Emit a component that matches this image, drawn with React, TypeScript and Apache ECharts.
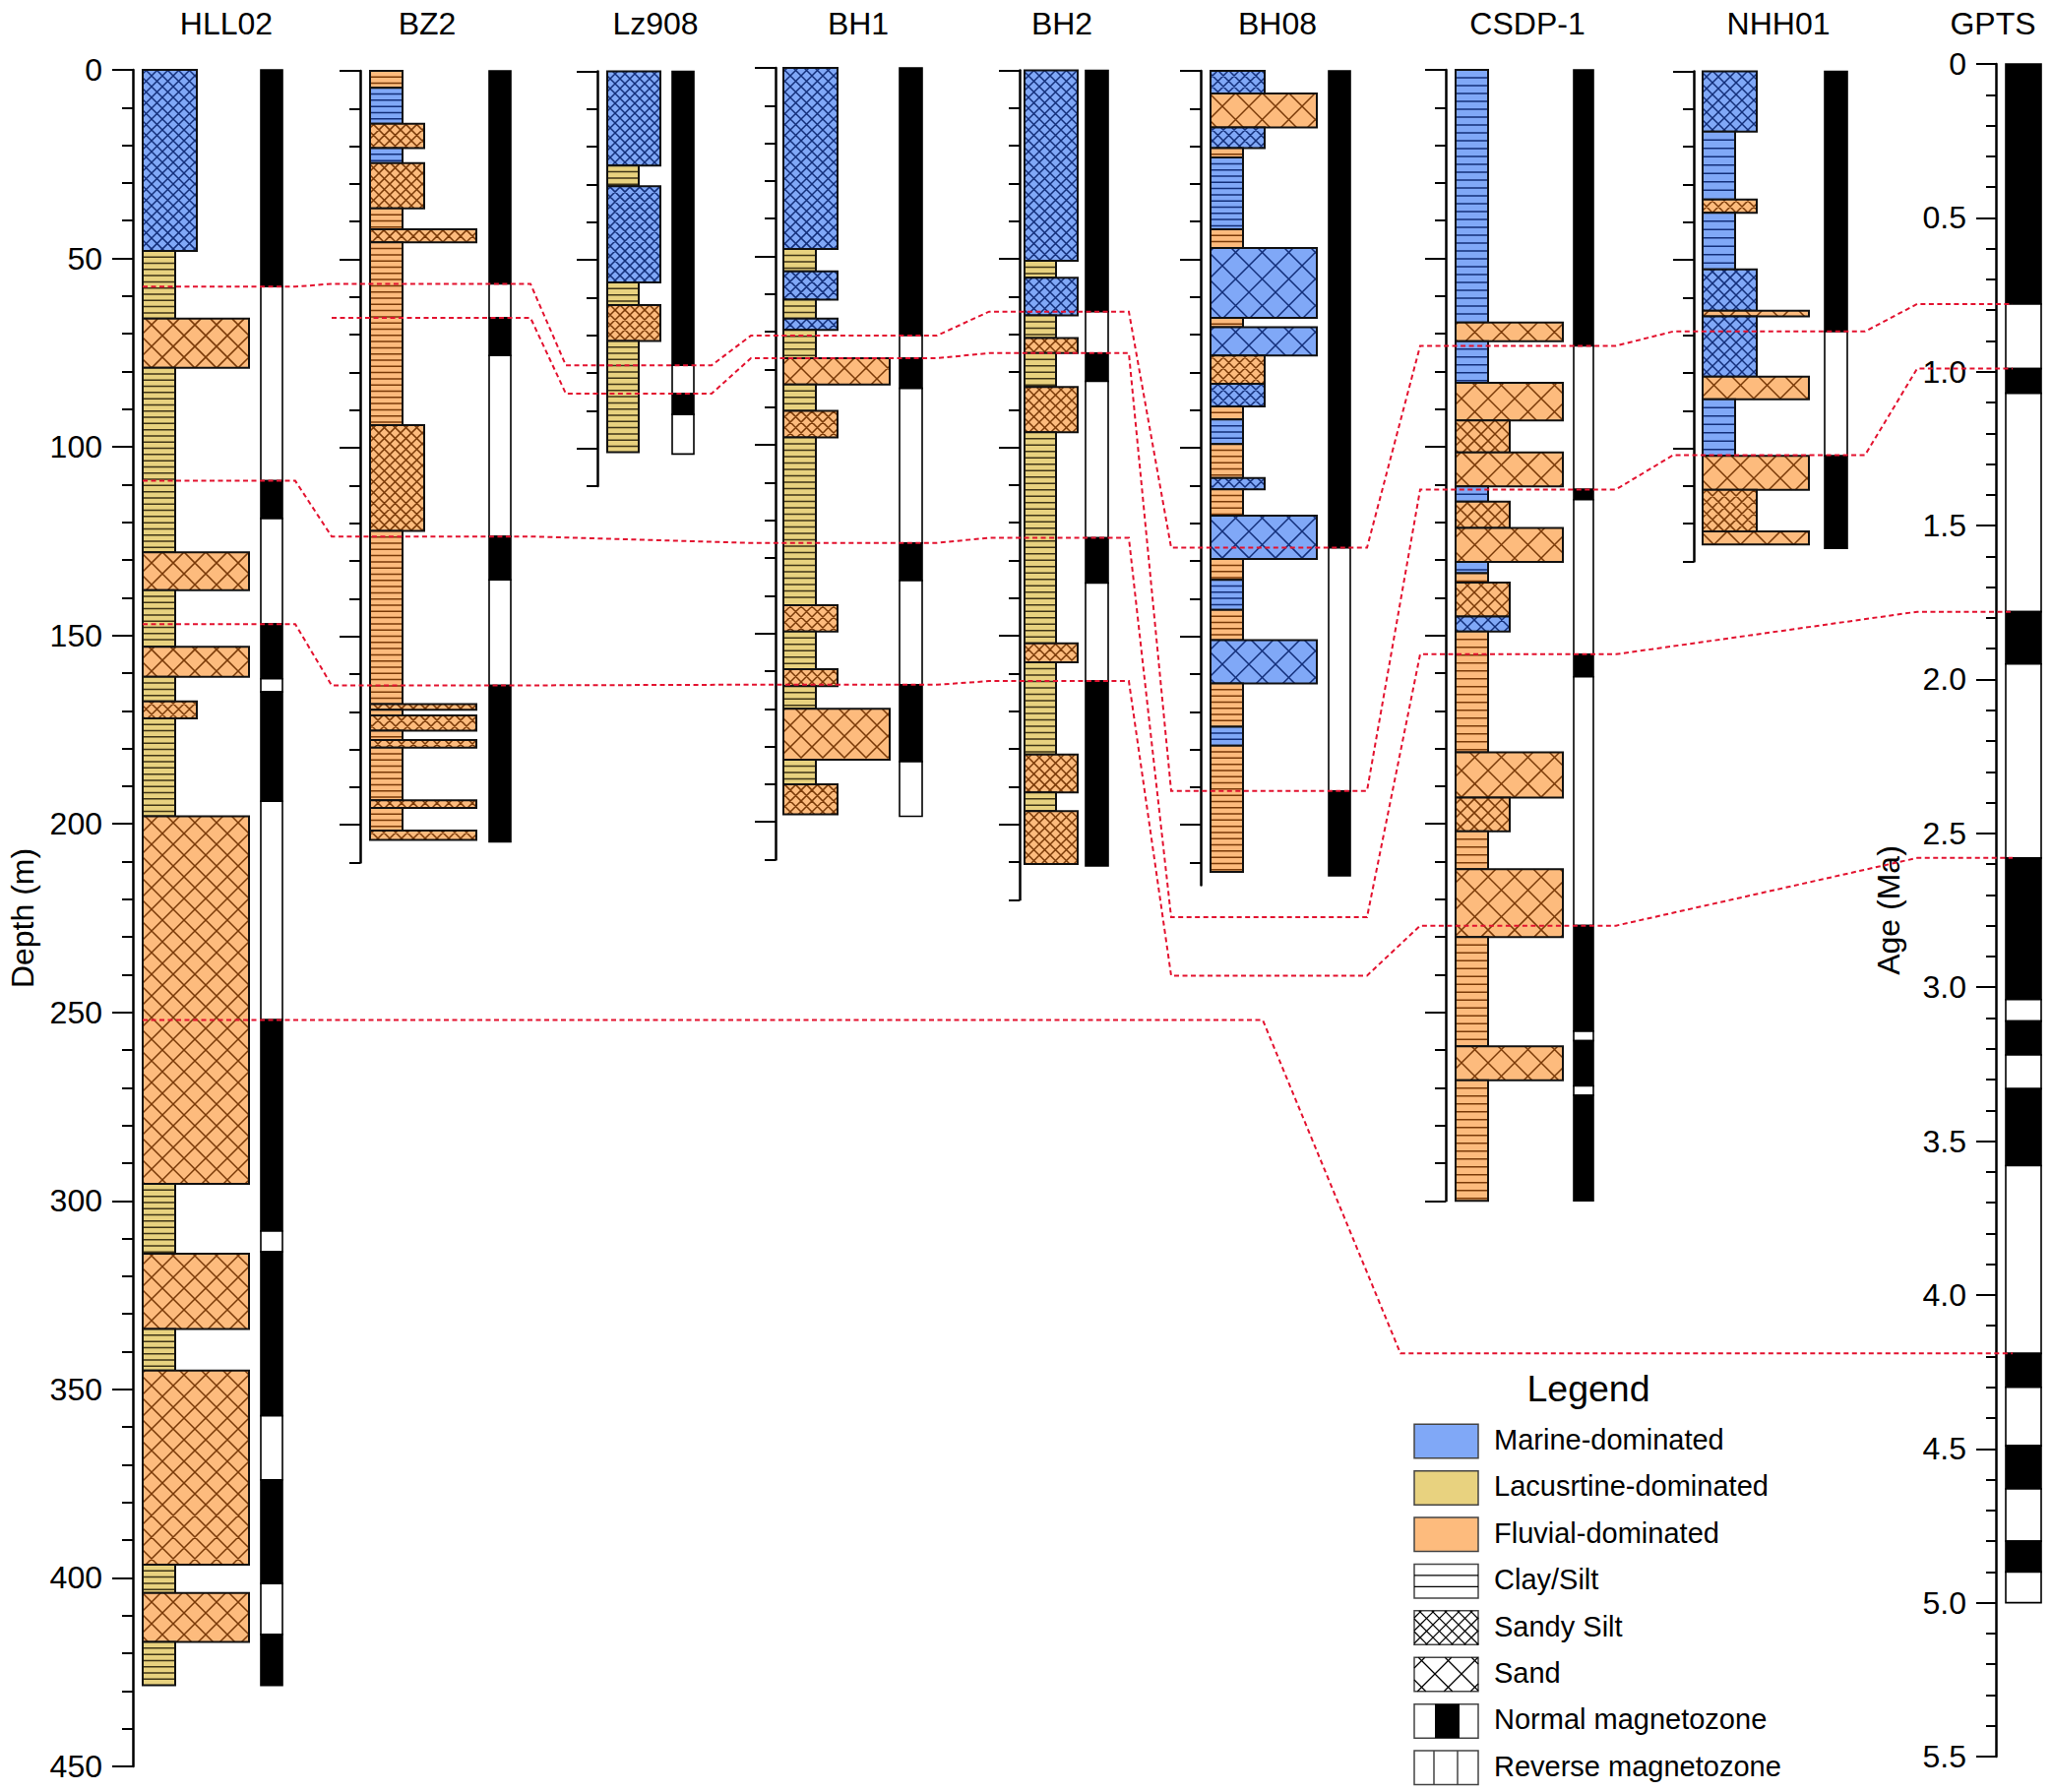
import React, { useEffect, useRef } from "react";
import * as echarts from "echarts";

const FONT = '"Liberation Sans", Arial, Helvetica, sans-serif';

// ---------------- DATA ----------------
// lithology: [topDepth, bottomDepth, facies (M marine, L lacustrine, F fluvial), texture (C clay/silt, S sandy silt, D sand)]
// polarity: [top, bottom, 1 = normal, 0 = reverse]
const BOREHOLE_NAMES = ["HLL02", "BZ2", "Lz908", "BH1", "BH2", "BH08", "CSDP-1", "NHH01"];
const AXIS_MAX = [450, 210, 110, 210, 220, 216, 300, 130];

const HLL02_LITH = [
  [0, 48, "M", "S"], [48, 66, "L", "C"], [66, 79, "F", "D"], [79, 128, "L", "C"], [128, 138, "F", "D"],
  [138, 153, "L", "C"], [153, 161, "F", "D"], [161, 167.5, "L", "C"], [167.5, 172, "F", "S"], [172, 198, "L", "C"],
  [198, 295.5, "F", "D"], [295.5, 314, "L", "C"], [314, 334, "F", "D"], [334, 345, "L", "C"], [345, 396.5, "F", "D"],
  [396.5, 404, "L", "C"], [404, 417, "F", "D"], [417, 428.5, "L", "C"],
];
const HLL02_MAG = [
  [0, 57.5, 1], [57.5, 109, 0], [109, 119, 1], [119, 147, 0], [147, 161.5, 1], [161.5, 165, 0], [165, 194, 1],
  [194, 252, 0], [252, 308, 1], [308, 313.5, 0], [313.5, 357, 1], [357, 374, 0], [374, 401.5, 1], [401.5, 415, 0],
  [415, 428.5, 1],
];

const BZ2_LITH = [
  [0, 4.5, "F", "C"], [4.5, 14, "M", "C"], [14, 20.5, "F", "S"], [20.5, 24.5, "M", "C"], [24.5, 36.5, "F", "S"],
  [36.5, 42, "F", "C"], [42, 45.5, "F", "D"], [45.5, 94, "F", "C"], [94, 122, "F", "S"], [122, 168, "F", "C"],
  [168, 169.5, "F", "D"], [169.5, 171, "F", "C"], [171, 175, "F", "D"], [175, 177.5, "F", "C"], [177.5, 179.5, "F", "D"],
  [179.5, 193.5, "F", "C"], [193.5, 195.5, "F", "D"], [195.5, 201.5, "F", "C"], [201.5, 204, "F", "D"],
];
const BZ2_MAG = [[0, 56.5, 1], [56.5, 65.5, 0], [65.5, 75.5, 1], [75.5, 123.5, 0], [123.5, 135, 1], [135, 163, 0], [163, 204.5, 1]];

const LZ908_LITH = [[0, 25, "M", "S"], [25, 30.5, "L", "C"], [30.5, 56, "M", "S"], [56, 62, "L", "C"], [62, 71.5, "F", "S"], [71.5, 101, "L", "C"]];
const LZ908_MAG = [[0, 78, 1], [78, 85.5, 0], [85.5, 91, 1], [91, 101.5, 0]];

const BH1_LITH = [
  [0, 48, "M", "S"], [48, 54, "L", "C"], [54, 61.5, "M", "S"], [61.5, 66.5, "L", "C"], [66.5, 69.5, "M", "S"],
  [69.5, 77, "L", "C"], [77, 84, "F", "D"], [84, 91, "L", "C"], [91, 98, "F", "S"], [98, 142.5, "L", "C"],
  [142.5, 149.5, "F", "S"], [149.5, 159.5, "L", "C"], [159.5, 164, "F", "S"], [164, 170, "L", "C"], [170, 183.5, "F", "D"],
  [183.5, 190, "L", "C"], [190, 198, "F", "S"],
];
const BH1_MAG = [[0, 71, 1], [71, 77, 0], [77, 85, 1], [85, 126, 0], [126, 136, 1], [136, 163.6, 0], [163.6, 184, 1], [184, 198.5, 0]];

const BH2_LITH = [
  [0, 50.5, "M", "S"], [50.5, 55, "L", "C"], [55, 65, "M", "S"], [65, 71, "L", "C"], [71, 75, "F", "S"],
  [75, 84, "L", "C"], [84, 96, "F", "S"], [96, 152, "L", "C"], [152, 157, "F", "S"], [157, 181.5, "L", "C"],
  [181.5, 191.5, "F", "S"], [191.5, 196.5, "L", "C"], [196.5, 210.5, "F", "S"],
];
const BH2_MAG = [[0, 64, 1], [64, 75, 0], [75, 82.5, 1], [82.5, 124, 0], [124, 136, 1], [136, 162, 0], [162, 211, 1]];

const BH08_LITH = [
  [0, 6, "M", "S"], [6, 15, "F", "D"], [15, 20.5, "M", "S"], [20.5, 23, "F", "C"], [23, 42, "M", "C"],
  [42, 47, "F", "C"], [47, 65.5, "M", "D"], [65.5, 68, "F", "C"], [68, 75.5, "M", "D"], [75.5, 83, "F", "S"],
  [83, 89, "M", "S"], [89, 92.5, "F", "C"], [92.5, 99, "M", "C"], [99, 108, "F", "C"], [108, 111, "M", "S"],
  [111, 118, "F", "C"], [118, 129.5, "M", "D"], [129.5, 135, "F", "C"], [135, 143, "M", "C"], [143, 151, "F", "C"],
  [151, 162.5, "M", "D"], [162.5, 174, "F", "C"], [174, 179, "M", "C"], [179, 212.5, "F", "C"],
];
const BH08_MAG = [[0, 126.5, 1], [126.5, 191, 0], [191, 213.5, 1]];

const CSDP1_LITH = [
  [0, 67, "M", "C"], [67, 72, "F", "D"], [72, 83, "M", "C"], [83, 93, "F", "D"], [93, 101.5, "F", "S"],
  [101.5, 110.5, "F", "D"], [110.5, 114.5, "M", "C"], [114.5, 121.5, "F", "S"], [121.5, 130.5, "F", "D"],
  [130.5, 133.5, "M", "C"], [133.5, 136, "F", "C"], [136, 145, "F", "S"], [145, 149, "M", "S"], [149, 181, "F", "C"],
  [181, 193, "F", "D"], [193, 202, "F", "S"], [202, 212, "F", "C"], [212, 230, "F", "D"], [230, 259, "F", "C"],
  [259, 268, "F", "D"], [268, 300, "F", "C"],
];
const CSDP1_MAG = [
  [0, 73.2, 1], [73.2, 111.3, 0], [111.3, 114, 1], [114, 155, 0], [155, 161, 1], [161, 227, 0], [227, 255, 1],
  [255, 257.5, 0], [257.5, 269.5, 1], [269.5, 272, 0], [272, 300, 1],
];

const NHH01_LITH = [
  [0, 16, "M", "S"], [16, 34, "M", "C"], [34, 37.5, "F", "S"], [37.5, 52.5, "M", "C"], [52.5, 63.5, "M", "S"],
  [63.5, 65, "F", "D"], [65, 81, "M", "S"], [81, 87, "F", "D"], [87, 102, "M", "C"], [102, 111, "F", "D"],
  [111, 122, "F", "S"], [122, 125.5, "F", "D"],
];
const NHH01_MAG = [[0, 69, 1], [69, 102, 0], [102, 126.5, 1]];

const LITH_BY_HOLE = [HLL02_LITH, BZ2_LITH, LZ908_LITH, BH1_LITH, BH2_LITH, BH08_LITH, CSDP1_LITH, NHH01_LITH];
const MAG_BY_HOLE = [HLL02_MAG, BZ2_MAG, LZ908_MAG, BH1_MAG, BH2_MAG, BH08_MAG, CSDP1_MAG, NHH01_MAG];

// GPTS polarity chrons [ageTop, ageBottom, polarity] (Ma)
const GPTS_POLARITY = [
  [0, 0.78, 1], [0.78, 0.99, 0], [0.99, 1.07, 1], [1.07, 1.78, 0], [1.78, 1.95, 1], [1.95, 2.58, 0],
  [2.58, 3.04, 1], [3.04, 3.11, 0], [3.11, 3.22, 1], [3.22, 3.33, 0], [3.33, 3.58, 1], [3.58, 4.19, 0],
  [4.19, 4.3, 1], [4.3, 4.49, 0], [4.49, 4.63, 1], [4.63, 4.8, 0], [4.8, 4.9, 1], [4.9, 5.0, 0],
];
const GPTS_MAX = 5.5;

const DEPTH_LABELS = [0, 50, 100, 150, 200, 250, 300, 350, 400, 450];
const AGE_LABELS = [0, 0.5, 1, 1.5, 2, 2.5, 3, 3.5, 4, 4.5, 5, 5.5];

// correlation lines: [column, depth (m) or age (Ma) for GPTS]
const TIE_LINES = [
  [["HLL02", 57.5], ["BZ2", 56.5], ["Lz908", 78], ["BH1", 71], ["BH2", 64], ["BH08", 126.5], ["CSDP-1", 73.2], ["NHH01", 69], ["GPTS", 0.78]],
  [["BZ2", 65.5], ["Lz908", 85.5], ["BH1", 77], ["BH2", 75], ["BH08", 191], ["CSDP-1", 111.3], ["NHH01", 101.8], ["GPTS", 0.99]],
  [["HLL02", 109], ["BZ2", 123.5], ["BH1", 126], ["BH2", 124], ["BH08", 224.5], ["CSDP-1", 155], ["GPTS", 1.78]],
  [["HLL02", 147], ["BZ2", 163], ["BH1", 163.6], ["BH2", 162], ["BH08", 240], ["CSDP-1", 227], ["GPTS", 2.58]],
  [["HLL02", 252], ["GPTS", 4.19]],
];

const LEGEND_LABELS = [
  "Marine-dominated", "Lacusrtine-dominated", "Fluvial-dominated", "Clay/Silt", "Sandy Silt", "Sand",
  "Normal magnetozone", "Reverse magnetozone",
];
const LEGEND_KINDS = ["M", "L", "F", "C", "S", "D", "N", "R"];

// ---------------- LAYOUT / STYLE ----------------
const PX_PER_M = 3.831;
const COLS: any = {
  HLL02: { axisX: 135, top: 71, lithL: 145, narrowR: 178, medR: 200, wideR: 253, magL: 265, magR: 287, sand: 22, silt: 11, clay: 6.3, span: [145, 300], titleX: 230 },
  BZ2: { axisX: 366, top: 72, lithL: 376, narrowR: 409, medR: 431, wideR: 484, magL: 497, magR: 519, sand: 12, silt: 11, clay: 6.3, span: [337, 539], titleX: 434 },
  Lz908: { axisX: 607, top: 72.5, lithL: 617, narrowR: 649, medR: 671, wideR: 700, magL: 683, magR: 705, sand: 14, silt: 10, clay: 6.3, span: [575, 723], titleX: 666 },
  BH1: { axisX: 788, top: 69, lithL: 796, narrowR: 829, medR: 851, wideR: 904, magL: 914, magR: 937, sand: 22, silt: 11, clay: 6.5, span: [763, 952], titleX: 872 },
  BH2: { axisX: 1036, top: 71.5, lithL: 1041, narrowR: 1073, medR: 1095, wideR: 1148, magL: 1103, magR: 1126, sand: 22, silt: 11, clay: 6.5, span: [1005, 1147], titleX: 1079 },
  BH08: { axisX: 1220, top: 72, lithL: 1230, narrowR: 1263, medR: 1285, wideR: 1338, magL: 1350, magR: 1372, sand: 27, silt: 11, clay: 6.3, span: [1190, 1389], titleX: 1298 },
  "CSDP-1": { axisX: 1469, top: 71, lithL: 1479, narrowR: 1512, medR: 1534, wideR: 1588, magL: 1599, magR: 1619, sand: 27, silt: 14, clay: 8, span: [1443, 1642], titleX: 1552 },
  NHH01: { axisX: 1721, top: 72.5, lithL: 1730, narrowR: 1763, medR: 1785, wideR: 1838, magL: 1854, magR: 1877, sand: 27, silt: 12, clay: 8.5, span: [1700, 1895], titleX: 1807 },
};
const GPTS_L = { axisX: 2028, top: 65, height: 1720, colL: 2038, colR: 2074, span: [1948, 2045], titleX: 2025 };
const TIE_SPAN_OVERRIDE: any = { 4: { HLL02: [145, 1283], GPTS: [1423, 2045] } };

const FILL: any = { M: "#80a8f7", L: "#e8d27f", F: "#fdbb7d" };
const HATCH: any = { M: "#132f7a", L: "#3f3517", F: "#7a3a08" };
const TIE_COLOR = "#e3122f";

function ticksUpTo(max: number, step: number) {
  const out: number[] = [];
  const n = Math.floor(max / step + 1e-9);
  for (let i = 0; i <= n; i++) out.push(Math.round(i * step * 1000) / 1000);
  return out;
}

function hatchSegments(x0: number, y0: number, x1: number, y1: number, tex: string, p: number, s: number) {
  const segs: number[][] = [];
  if (tex === "C") {
    for (let y = y0 + s; y < y1 - 1.5; y += s) segs.push([x0, y, x1, y]);
  } else {
    for (let c = Math.ceil((x0 - y1) / p) * p; c < x1 - y0; c += p) {
      const xs = Math.max(x0, y0 + c), xe = Math.min(x1, y1 + c);
      if (xe - xs > 0.3) segs.push([xs, xs - c, xe, xe - c]);
    }
    for (let c = Math.ceil((x0 + y0) / p) * p; c < x1 + y1; c += p) {
      const xs = Math.max(x0, c - y1), xe = Math.min(x1, c - y0);
      if (xe - xs > 0.3) segs.push([xs, c - xs, xe, c - xe]);
    }
  }
  return segs;
}

function segsToPath(segs: number[][]) {
  return segs.map((s) => `M${s[0].toFixed(2)} ${s[1].toFixed(2)}L${s[2].toFixed(2)} ${s[3].toFixed(2)}`).join("") || "M0 0";
}

function buildOption() {
  const grid: any[] = [], xAxis: any[] = [], yAxis: any[] = [], series: any[] = [], title: any[] = [];
  const titleStyle = { fontSize: 32, fontWeight: "normal", color: "#000", fontFamily: FONT };

  BOREHOLE_NAMES.forEach((name, i) => {
    const L = COLS[name];
    const max = AXIS_MAX[i];
    const w = L.magR - L.axisX + 10;
    const isMain = name === "HLL02";
    grid.push({ left: L.axisX, top: L.top, width: w, height: max * PX_PER_M });
    xAxis.push({ type: "value", gridIndex: i, min: 0, max: w, show: false });
    yAxis.push({
      type: "value", gridIndex: i, min: 0, max, inverse: true, position: "left",
      axisLine: { show: true, onZero: false, lineStyle: { color: "#000", width: 2.5 } },
      axisTick: { show: true, customValues: ticksUpTo(max, 10), length: 11, lineStyle: { color: "#000", width: 2 } },
      axisLabel: { show: false }, splitLine: { show: false },
    });
    yAxis.push({
      type: "value", gridIndex: i, min: 0, max, inverse: true, position: "left",
      axisLine: { show: false, onZero: false },
      axisTick: { show: true, customValues: ticksUpTo(max, 50), length: 21, lineStyle: { color: "#000", width: 2 } },
      axisLabel: isMain
        ? { show: true, customValues: DEPTH_LABELS, margin: 31, fontSize: 32, color: "#000", fontFamily: FONT }
        : { show: false },
      name: isMain ? "Depth (m)" : "",
      nameLocation: "middle", nameRotate: 90, nameGap: 96,
      nameTextStyle: { fontSize: 32, color: "#000", fontFamily: FONT },
      splitLine: { show: false },
    });
    title.push({ text: name, left: L.titleX, top: 8, textAlign: "center", padding: 0, textStyle: titleStyle });

    const lith = LITH_BY_HOLE[i];
    series.push({
      type: "custom", xAxisIndex: i, yAxisIndex: 2 * i, silent: true, clip: false,
      data: lith.map((r: any) => [0, r[0], r[1]]),
      encode: { x: 0, y: [1, 2] },
      renderItem: (params: any, api: any) => {
        const rec: any = lith[params.dataIndex];
        const right = rec[3] === "C" ? L.narrowR : rec[3] === "S" ? L.medR : L.wideR;
        const a = api.coord([L.lithL - L.axisX, api.value(1)]);
        const b = api.coord([right - L.axisX, api.value(2)]);
        const x = a[0], y = a[1], wd = b[0] - a[0], ht = b[1] - a[1];
        const per = rec[3] === "D" ? L.sand : L.silt;
        const segs = hatchSegments(x, y, x + wd, y + ht, rec[3], per, L.clay);
        return {
          type: "group",
          children: [
            { type: "rect", shape: { x, y, width: wd, height: ht }, style: { fill: FILL[rec[2]], stroke: "none" } },
            { type: "path", shape: { pathData: segsToPath(segs) }, style: { fill: "none", stroke: HATCH[rec[2]], lineWidth: 1.5 } },
            { type: "rect", shape: { x, y, width: wd, height: ht }, style: { fill: "none", stroke: "#111", lineWidth: 2 } },
          ],
        };
      },
    });
    const mag = MAG_BY_HOLE[i];
    series.push({
      type: "custom", xAxisIndex: i, yAxisIndex: 2 * i, silent: true, clip: false,
      data: mag.map((r: any) => [0, r[0], r[1], r[2]]),
      encode: { x: 0, y: [1, 2] },
      renderItem: (params: any, api: any) => {
        const a = api.coord([L.magL - L.axisX, api.value(1)]);
        const b = api.coord([L.magR - L.axisX, api.value(2)]);
        return {
          type: "rect",
          shape: { x: a[0], y: a[1], width: b[0] - a[0], height: b[1] - a[1] },
          style: { fill: api.value(3) === 1 ? "#000" : "#fff", stroke: "#000", lineWidth: 1.6 },
        };
      },
    });
  });

  // GPTS
  const gi = BOREHOLE_NAMES.length;
  grid.push({ left: GPTS_L.axisX, top: GPTS_L.top, width: GPTS_L.colR - GPTS_L.axisX + 10, height: GPTS_L.height });
  xAxis.push({ type: "value", gridIndex: gi, min: 0, max: GPTS_L.colR - GPTS_L.axisX + 10, show: false });
  yAxis.push({
    type: "value", gridIndex: gi, min: 0, max: GPTS_MAX, inverse: true, position: "left",
    axisLine: { show: true, onZero: false, lineStyle: { color: "#000", width: 2.5 } },
    axisTick: { show: true, customValues: ticksUpTo(GPTS_MAX, 0.1), length: 10, lineStyle: { color: "#000", width: 2 } },
    axisLabel: { show: false }, splitLine: { show: false },
  });
  yAxis.push({
    type: "value", gridIndex: gi, min: 0, max: GPTS_MAX, inverse: true, position: "left",
    axisLine: { show: false, onZero: false },
    axisTick: { show: true, customValues: ticksUpTo(GPTS_MAX, 0.5), length: 20, lineStyle: { color: "#000", width: 2 } },
    axisLabel: {
      show: true, customValues: AGE_LABELS, margin: 30, fontSize: 32, color: "#000", fontFamily: FONT,
      formatter: (v: number) => (v === 0 ? "0" : Number(v).toFixed(1)),
    },
    name: "Age (Ma)", nameLocation: "middle", nameRotate: 90, nameGap: 93,
    nameTextStyle: { fontSize: 32, color: "#000", fontFamily: FONT },
    splitLine: { show: false },
  });
  title.push({ text: "GPTS", left: GPTS_L.titleX, top: 8, textAlign: "center", padding: 0, textStyle: titleStyle });
  series.push({
    type: "custom", xAxisIndex: gi, yAxisIndex: 2 * gi, silent: true, clip: false,
    data: GPTS_POLARITY.map((r) => [0, r[0], r[1], r[2]]),
    encode: { x: 0, y: [1, 2] },
    renderItem: (params: any, api: any) => {
      const a = api.coord([GPTS_L.colL - GPTS_L.axisX, api.value(1)]);
      const b = api.coord([GPTS_L.colR - GPTS_L.axisX, api.value(2)]);
      return {
        type: "rect",
        shape: { x: a[0], y: a[1], width: b[0] - a[0], height: b[1] - a[1] },
        style: { fill: api.value(3) === 1 ? "#000" : "#fff", stroke: "#000", lineWidth: 1.6 },
      };
    },
  });

  return {
    animation: false,
    backgroundColor: "#fff",
    textStyle: { fontFamily: FONT },
    title, grid, xAxis, yAxis, series,
  };
}

function legendElements() {
  const els: any[] = [];
  const X = 1437, W = 65, H = 34.5, Y0 = 1464.5, STEP = 47.4, TX = 1518;
  els.push({
    type: "text", x: 1614, y: 1411, silent: true,
    style: { text: "Legend", fontSize: 37.5, fontFamily: FONT, fill: "#000", align: "center", verticalAlign: "middle" },
  });
  LEGEND_LABELS.forEach((label, i) => {
    const cy = Y0 + i * STEP;
    const y = cy - H / 2;
    const k = LEGEND_KINDS[i];
    const border = { stroke: "#444", lineWidth: 1.5 };
    if (k === "M" || k === "L" || k === "F") {
      els.push({ type: "rect", shape: { x: X, y, width: W, height: H }, style: { fill: FILL[k], ...border }, silent: true });
    } else if (k === "C" || k === "S" || k === "D") {
      els.push({ type: "rect", shape: { x: X, y, width: W, height: H }, style: { fill: "#fff", ...border }, silent: true });
      const segs = k === "C" ? hatchSegments(X, y, X + W, y + H, "C", 0, H / 3) : hatchSegments(X, y, X + W, y + H, k, k === "S" ? 13 : 27, 0);
      segs.forEach((s) => els.push({ type: "line", shape: { x1: s[0], y1: s[1], x2: s[2], y2: s[3] }, style: { stroke: "#000", lineWidth: 1.3 }, silent: true }));
    } else if (k === "N") {
      els.push({ type: "rect", shape: { x: X, y, width: W, height: H }, style: { fill: "#fff", ...border }, silent: true });
      els.push({ type: "rect", shape: { x: X + 21, y, width: 25, height: H }, style: { fill: "#000" }, silent: true });
    } else {
      els.push({ type: "rect", shape: { x: X, y, width: W, height: H }, style: { fill: "#fff", ...border }, silent: true });
      [X + 20, X + 44].forEach((lx) => els.push({ type: "line", shape: { x1: lx, y1: y, x2: lx, y2: y + H }, style: { stroke: "#444", lineWidth: 1.5 }, silent: true }));
    }
    els.push({
      type: "text", x: TX, y: cy - 1.5, silent: true,
      style: { text: label, fontSize: 29, fontFamily: FONT, fill: "#000", align: "left", verticalAlign: "middle" },
    });
  });
  return els;
}

function tieElements(chart: any) {
  const axisIndexOf = (col: string) => (col === "GPTS" ? 2 * BOREHOLE_NAMES.length : 2 * BOREHOLE_NAMES.indexOf(col));
  return TIE_LINES.map((line: any[], li: number) => {
    const pts: number[][] = [];
    line.forEach((node: any[]) => {
      const col = node[0];
      const ov = TIE_SPAN_OVERRIDE[li] && TIE_SPAN_OVERRIDE[li][col];
      const span = ov || (col === "GPTS" ? GPTS_L.span : COLS[col].span);
      const py = chart.convertToPixel({ yAxisIndex: axisIndexOf(col) }, node[1]);
      pts.push([span[0], py], [span[1], py]);
    });
    return {
      type: "polyline", z: 100, silent: true,
      shape: { points: pts },
      style: { stroke: TIE_COLOR, lineWidth: 2, lineDash: [5, 3.5], fill: "none" },
    };
  });
}

export default function App() {
  const ref = useRef<HTMLDivElement>(null);
  useEffect(() => {
    const chart = echarts.init(ref.current as HTMLDivElement, null, { renderer: "svg" });
    chart.setOption(buildOption() as any);
    const graphics = [...legendElements(), ...tieElements(chart)];
    chart.setOption({ graphic: graphics } as any);
    return () => chart.dispose();
  }, []);
  return (
    <div
      ref={ref}
      style={{ position: "fixed", left: 0, top: 0, width: 2085, height: 1821, background: "#fff" }}
    />
  );
}
